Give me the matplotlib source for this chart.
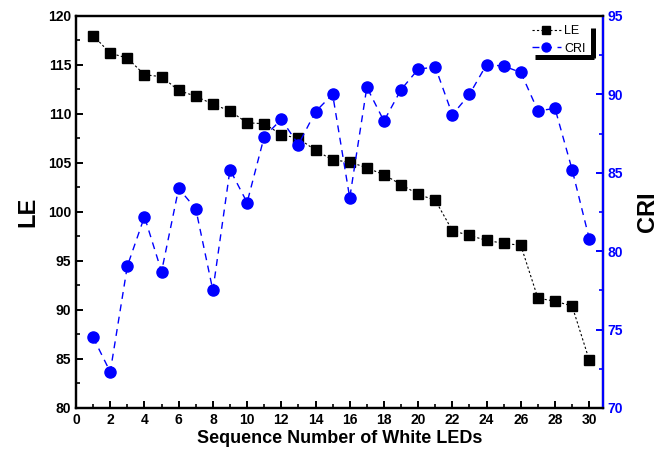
import numpy as np
import matplotlib
matplotlib.use("Agg")
import matplotlib.pyplot as plt

plt.rcParams["font.family"] = ["Liberation Sans", "DejaVu Sans"]

seq = np.arange(1, 31)
le = [118.0, 116.2, 115.7, 114.0, 113.8, 112.4, 111.8, 111.0, 110.3, 109.1,
      109.0, 107.9, 107.5, 106.3, 105.3, 105.1, 104.5, 103.8, 102.8, 101.8,
      101.2, 98.1, 97.6, 97.1, 96.8, 96.6, 91.2, 90.9, 90.4, 84.9]
cri = [74.5, 72.3, 79.05, 82.2, 78.7, 84.0, 82.7, 77.5, 85.2, 83.1,
       87.3, 88.4, 86.8, 88.9, 90.0, 83.4, 90.45, 88.3, 90.3, 91.6,
       91.75, 88.7, 90.0, 91.9, 91.8, 91.4, 88.95, 89.1, 85.2, 80.8]

fig = plt.figure(figsize=(6.64, 4.55), dpi=100)
ax = fig.add_axes([0.1145, 0.1033, 0.7935, 0.8617])
ax2 = ax.twinx()

l1, = ax.plot(seq, le, color="black", linestyle=(0, (2, 2)), linewidth=0.8,
              marker="s", markersize=7, label="LE")
l2, = ax2.plot(seq, cri, color="blue", linestyle=(0, (5, 4)), linewidth=1.0,
               marker="o", markersize=8, label="CRI")

ax.set_xlim(0, 30.8)
ax.set_ylim(80, 120)
ax2.set_ylim(70, 95)
ax.set_xticks(np.arange(0, 31, 2))
ax.set_xticks(np.arange(1, 31, 2), minor=True)
ax.set_yticks(np.arange(80, 121, 5))
ax.set_yticks(np.arange(82.5, 120, 5), minor=True)
ax2.set_yticks(np.arange(70, 96, 5))
ax2.set_yticks(np.arange(72.5, 95, 5), minor=True)

for a in (ax, ax2):
    for s in a.spines.values():
        s.set_linewidth(1.6)
ax2.spines["right"].set_color("blue")

ax.tick_params(axis="both", which="major", direction="in", length=5, width=1.4,
               labelsize=10, top=False)
ax.tick_params(axis="both", which="minor", direction="in", length=3, width=1.2, top=False)
ax2.tick_params(axis="y", which="major", direction="in", length=5, width=1.4,
                colors="blue", labelsize=10)
ax2.tick_params(axis="y", which="minor", direction="in", length=3, width=1.2, colors="blue")
for lab in ax.get_xticklabels() + ax.get_yticklabels() + ax2.get_yticklabels():
    lab.set_fontweight("bold")

ax.set_xlabel("Sequence Number of White LEDs", fontsize=13, fontweight="bold", labelpad=2)
ax.set_ylabel("LE", fontsize=17, fontweight="bold", labelpad=6)
ax2.set_ylabel("CRI", fontsize=17, fontweight="bold", labelpad=9)

leg = ax2.legend(handles=[l1, l2], loc="upper left", bbox_to_anchor=(0.865, 0.977),
                 frameon=False, fontsize=9, handlelength=2.3, handletextpad=0.3,
                 borderpad=0, borderaxespad=0, labelspacing=0.45, markerscale=0.8)
# Origin-style thick L-shaped legend shadow
ax2.plot([0.871, 0.984], [0.895, 0.895], transform=ax2.transAxes, color="black",
         linewidth=3.6, clip_on=False, solid_capstyle="butt")
ax2.plot([0.981, 0.981], [0.893, 0.969], transform=ax2.transAxes, color="black",
         linewidth=3.6, clip_on=False, solid_capstyle="butt")

fig.savefig("out.png", dpi=100)
